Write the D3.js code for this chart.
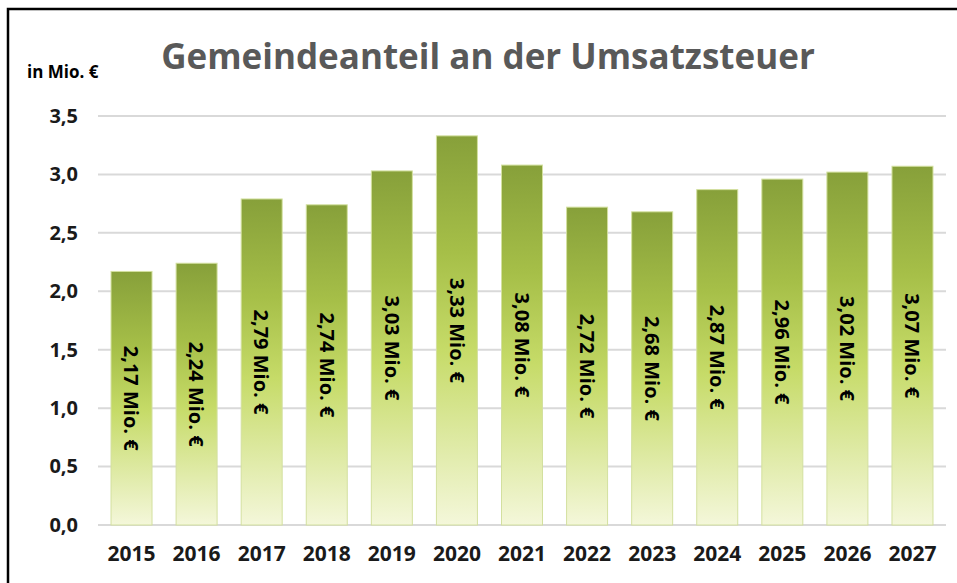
<!DOCTYPE html>
<html>
<head>
<meta charset="utf-8">
<script src="https://cdn.jsdelivr.net/npm/d3@7"></script>
<style>
  body { margin: 0; background: #fff; }
  svg text { font-family: "Open Sans", sans-serif; font-weight: bold; }
</style>
</head>
<body>
<div id="drawarea"></div>
<script>
// data
let years = ["2015", "2016", "2017", "2018", "2019", "2020", "2021", "2022", "2023", "2024", "2025", "2026", "2027"];
let values = [2.17, 2.24, 2.79, 2.74, 3.03, 3.33, 3.08, 2.72, 2.68, 2.87, 2.96, 3.02, 3.07];
let yTicks = [0, 0.5, 1.0, 1.5, 2.0, 2.5, 3.0, 3.5];

let width = 957, height = 583;
let svg = d3.select("div#drawarea").append("svg")
    .attr("width", width)
    .attr("height", height);

//Frame of the chart area (only top and left edge are in the picture)
svg.append("path")
    .attr("d", "M8,583 V9 H957")
    .attr("fill", "none")
    .attr("stroke", "#000")
    .attr("stroke-width", 2.5);

let x = d3.scaleBand().domain(years).range([98, 946]).paddingInner(0.37).paddingOuter(0.2);
let y = d3.scaleLinear().domain([0, 3.5]).range([525, 116]);

//Gradient used by every bar
let grad = svg.append("defs").append("linearGradient")
    .attr("id", "bargrad")
    .attr("x1", 0).attr("y1", 0).attr("x2", 0).attr("y2", 1);
grad.append("stop").attr("offset", "0%").attr("stop-color", "#87a03a");
grad.append("stop").attr("offset", "30%").attr("stop-color", "#a6bf48");
grad.append("stop").attr("offset", "55%").attr("stop-color", "#c6db68");
grad.append("stop").attr("offset", "100%").attr("stop-color", "#f4f7da");

//Gridlines
svg.append("g")
    .selectAll("line")
    .data(yTicks)
    .join("line")
    .attr("x1", 98)
    .attr("x2", 946)
    .attr("y1", d => y(d))
    .attr("y2", d => y(d))
    .attr("stroke", "#d9d9d9")
    .attr("stroke-width", 2);

//Y axis labels
let yAxis = svg.append("g")
    .attr("transform", "translate(78,0)")
    .call(d3.axisLeft(y).tickValues(yTicks).tickSize(0).tickPadding(0)
        .tickFormat(d => d3.format(".1f")(d).replace(".", ",")));
yAxis.select(".domain").remove();
yAxis.selectAll("text")
    .attr("font-size", 20)
    .attr("fill", "#1a1a1a")
    .attr("font-family", "Open Sans");

//X axis labels
let xAxis = svg.append("g")
    .attr("transform", "translate(0,546)")
    .call(d3.axisBottom(x).tickSize(0).tickPadding(0));
xAxis.select(".domain").remove();
xAxis.selectAll("text")
    .attr("font-size", 21)
    .attr("fill", "#1a1a1a")
    .attr("font-family", "Open Sans");

//Bars
svg.append("g")
    .selectAll("rect")
    .data(values)
    .join("rect")
    .attr("x", (d, i) => x(years[i]))
    .attr("y", d => y(d))
    .attr("width", x.bandwidth())
    .attr("height", d => y(0) - y(d))
    .attr("fill", "url(#bargrad)")
    .attr("stroke", "#d3e09f")
    .attr("stroke-width", 1);

//Value labels, rotated, centred in each bar
svg.append("g")
    .selectAll("text")
    .data(values)
    .join("text")
    .attr("transform", (d, i) => "translate(" + (x(years[i]) + x.bandwidth() / 2) + "," + ((y(d) + y(0)) / 2) + ") rotate(90)")
    .attr("text-anchor", "middle")
    .attr("dy", "0.36em")
    .attr("font-size", 20)
    .attr("fill", "#000")
    .text(d => d.toFixed(2).replace(".", ",") + " Mio. €");

//Unit label
svg.append("text")
    .attr("x", 27)
    .attr("y", 78)
    .attr("font-size", 17)
    .attr("fill", "#000")
    .text("in Mio. €");

//Title
svg.append("text")
    .attr("x", 488)
    .attr("y", 69)
    .attr("text-anchor", "middle")
    .attr("font-size", 35)
    .attr("fill", "#595959")
    .text("Gemeindeanteil an der Umsatzsteuer");
</script>
</body>
</html>
